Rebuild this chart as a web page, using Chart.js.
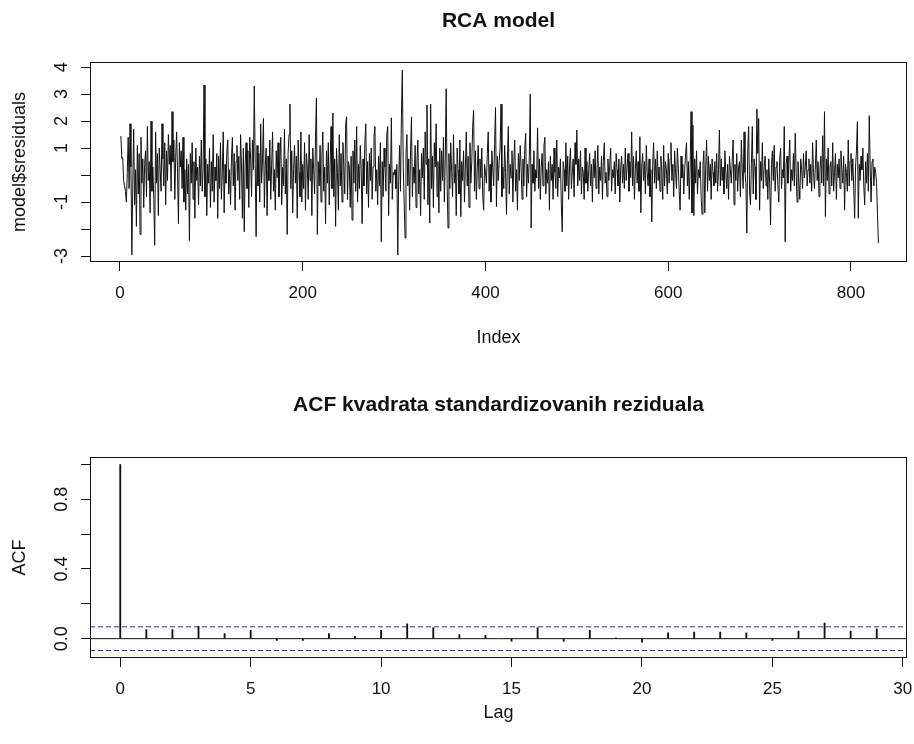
<!DOCTYPE html>
<html><head><meta charset="utf-8">
<script src="https://cdn.jsdelivr.net/npm/chart.js@4.4.1/dist/chart.umd.min.js"></script>
<style>
html,body{margin:0;padding:0;background:#fff;}
#wrap{position:relative;width:914px;height:744px;background:#fff;}
canvas{position:absolute;left:0;}
#c1{top:0}
#c2{top:372px}
</style></head><body>
<div id="wrap"><canvas id="c1" width="914" height="372"></canvas><canvas id="c2" width="914" height="372"></canvas></div>
<script>
// ---------- data ----------
const residuals = [
1.45,0.62,0.65,-0.2,-0.4,-0.6,-1.0,0.1,1.4,-0.5,
1.9,0.3,-2.95,-0.4,1.7,-1.1,0.2,-1.9,1.1,-0.7,
0.8,-2.2,1.4,-0.3,0.6,-1.2,0.4,0.9,-0.8,1.8,
-0.2,0.5,-1.4,2.0,-0.6,0.3,-0.9,-2.6,1.6,-0.3,
0.8,-1.5,1.0,0.2,-0.6,1.9,0.6,-0.4,1.2,-1.1,
0.9,-0.2,1.5,0.4,1.1,-0.6,2.35,0.5,1.3,-0.9,
0.7,1.6,0.1,-1.8,1.2,0.3,0.9,-0.5,1.4,-1.0,
0.2,-1.3,0.6,-0.7,0.4,-2.43,0.8,-0.3,1.2,-0.9,
0.5,-1.6,1.0,-0.2,0.3,-1.1,0.7,-0.4,1.3,-0.6,
0.2,3.33,-0.8,0.6,-1.5,0.4,-0.3,1.0,-1.2,0.5,
-0.6,1.5,-1.0,0.3,-0.2,0.8,-1.6,0.7,-0.5,1.2,
-0.9,0.1,1.6,-1.4,0.4,-0.3,0.9,1.3,-0.7,0.2,
-1.1,0.6,1.4,-0.4,0.8,-1.3,0.5,1.1,-0.2,0.7,
-0.9,1.5,0.3,-1.6,1.0,-2.1,0.4,1.2,-0.5,0.9,
-1.2,1.4,0.6,-0.8,1.3,0.2,3.3,0.4,-2.28,1.1,
-0.4,0.8,-1.0,1.9,-0.3,0.6,2.1,-1.2,0.3,1.0,
-1.5,0.7,-0.2,1.3,-0.9,0.4,1.6,-0.6,0.2,-1.3,
0.9,-0.1,1.2,-0.8,0.5,1.4,-1.1,0.3,-0.4,1.7,
-0.7,0.6,-2.2,0.8,1.5,2.63,-0.5,0.9,-1.4,0.2,
1.1,-0.3,0.7,-1.6,1.3,0.1,-0.8,1.6,-1.0,0.4,
-0.5,1.2,-1.3,0.8,0.3,-0.9,1.5,-0.2,0.6,-1.5,
1.0,0.2,-0.7,1.4,2.85,-2.2,0.5,-0.4,1.1,-1.0,
0.7,1.6,-0.6,0.3,-1.8,0.9,-0.3,1.2,-1.1,0.4,
1.8,-0.5,2.3,-0.8,0.6,-1.9,1.0,0.1,-1.3,1.5,
-0.4,0.8,-1.0,1.2,0.3,-0.7,1.9,2.16,-0.9,0.5,
0.3,-1.2,0.7,-1.67,0.9,-0.3,1.3,-0.6,1.8,-1.0,
0.4,-0.5,1.1,0.2,-1.8,0.6,-0.4,1.2,1.9,-0.7,
0.5,-1.2,0.8,-0.2,1.0,-0.9,0.3,1.4,1.8,-0.6,
0.2,-1.1,0.7,-0.4,1.2,-2.47,0.5,-0.8,1.0,0.3,
-0.6,1.5,1.8,-1.5,0.4,-0.3,2.12,-0.9,0.1,0.0,
0.2,-0.5,0.4,-2.96,-0.2,1.1,-0.6,2.2,3.89,0.3,
-1.0,-2.33,0.8,1.5,-0.4,0.6,-1.3,0.9,2.16,-0.8,
0.3,-0.3,1.1,-1.2,0.5,1.3,-0.7,0.2,-1.5,0.8,
-0.1,1.0,-0.9,1.6,0.4,2.59,-1.1,0.6,-1.78,2.63,
-0.5,0.7,-1.2,1.2,0.3,1.9,-0.8,0.5,-1.4,1.0,
-0.6,0.9,-0.2,1.4,-1.0,0.6,3.2,-0.3,-1.96,0.8,
-0.5,1.2,0.1,-0.8,1.5,-0.3,0.4,-1.5,1.0,0.2,
-0.7,1.3,-1.54,0.5,-0.2,0.9,-1.0,0.3,1.6,-0.4,
0.7,-1.2,1.2,-0.3,0.5,1.8,2.4,-0.6,0.9,-0.9,
0.2,1.1,-0.5,0.6,-0.1,1.0,-0.8,-1.3,0.4,0.1,
-0.3,0.8,1.6,-0.6,0.4,-1.0,0.9,0.2,-0.4,1.2,
2.5,-1.17,0.7,-0.2,0.5,1.0,2.63,-0.8,0.3,-0.5,
1.1,0.1,-1.46,0.6,1.8,-0.7,0.4,-0.1,0.9,-1.0,
0.5,1.3,-0.6,0.2,-1.3,0.8,-0.2,1.1,0.3,-0.9,
0.6,-0.4,1.0,1.55,-0.8,0.4,-0.3,0.7,3.0,-1.96,
0.4,-0.3,0.9,-0.6,0.2,-0.1,1.75,-0.5,0.6,-0.9,
0.3,0.8,-0.4,1.1,1.4,-0.7,0.2,-0.3,0.5,-1.3,
0.7,-0.2,0.4,-0.9,1.0,0.1,-0.5,1.3,-0.8,0.3,
-0.1,0.6,-1.1,-2.1,0.5,0.2,-0.6,1.2,-0.4,0.7,
-0.9,0.3,1.0,-0.5,0.1,0.6,-0.8,1.2,0.4,1.67,
-0.4,0.6,-0.2,0.9,-0.7,0.3,0.1,-0.9,1.0,-0.3,
0.5,-0.6,0.2,0.8,-0.4,0.4,-1.0,0.6,-0.1,0.9,
-0.5,0.2,1.1,-0.7,0.3,-0.2,0.7,-0.9,0.5,1.2,
-0.3,0.1,-0.8,0.6,-0.2,0.4,1.0,-0.6,0.2,-0.1,
0.5,-0.7,0.8,0.2,-0.4,0.6,-1.0,0.3,0.7,-0.3,
0.4,-0.5,1.0,-0.2,0.3,0.8,-0.6,0.5,-0.1,1.6,
-0.4,0.7,-0.9,0.2,0.9,-0.3,0.5,-0.6,1.42,-1.4,
0.3,0.8,-0.2,0.5,-0.7,1.1,0.1,-0.4,0.6,-0.8,
0.2,-1.73,0.4,1.2,-0.3,0.6,-0.5,0.9,-0.2,0.3,
-0.6,0.7,0.1,-0.9,1.1,-0.4,0.5,0.2,-0.7,0.8,
-0.3,0.6,1.2,-0.2,0.4,-0.8,0.9,0.1,-0.5,1.0,
0.3,-0.6,-1.3,0.7,-0.1,0.4,-0.7,0.2,0.8,1.2,
-0.4,0.5,-0.9,0.3,2.35,-1.4,1.85,-1.5,0.6,-0.3,
0.9,-0.7,0.2,-0.1,0.5,-0.8,-1.45,0.4,0.9,-1.4,
0.3,1.3,-0.6,0.7,-0.2,0.4,-0.9,0.6,0.1,-0.4,
0.5,-0.3,0.8,-0.6,0.2,1.67,-0.4,0.6,-0.2,0.3,
-0.7,0.9,0.1,-0.5,0.4,-0.9,0.7,0.2,-0.3,0.5,
1.3,-1.1,0.4,-0.2,0.8,-0.6,0.3,0.5,-0.8,1.3,
0.2,-0.5,1.6,0.1,-0.3,-2.15,0.9,1.8,-0.6,-1.1,
0.4,1.8,-0.7,0.6,0.3,-0.9,2.44,0.8,2.1,-1.3,
0.5,-0.2,1.2,-0.5,0.3,0.7,-0.4,0.2,-0.9,0.6,
-0.3,-1.85,0.4,0.9,-0.2,1.1,-0.6,0.3,0.5,-0.4,
-1.0,0.6,1.0,-0.5,0.2,-0.1,1.8,-2.47,0.4,0.7,
-0.3,0.5,1.3,-0.6,0.2,-0.2,0.8,-0.4,1.55,0.1,
-1.0,0.5,-0.3,-0.9,0.6,0.2,-0.5,0.8,-0.1,0.3,
0.9,-0.4,0.2,0.6,-0.3,0.4,-0.6,1.2,0.1,-0.5,
0.3,1.3,-0.2,0.5,-0.8,0.2,0.7,-0.3,1.46,-0.4,
2.35,-1.54,0.6,-0.2,1.0,-0.7,0.3,0.5,-0.4,1.2,
-0.6,0.1,0.8,-0.9,0.4,-0.1,0.6,-0.5,0.9,0.2,
-0.3,0.7,-1.3,0.4,0.1,-0.6,1.3,-0.4,0.5,0.8,
-0.2,0.6,-0.5,-1.6,0.3,0.9,1.98,-1.6,0.4,-0.2,
0.7,0.2,1.0,-0.4,-1.1,0.5,-0.3,0.8,-0.6,2.2,
0.3,-1.0,0.5,0.6,-0.4,0.3,0.1,-0.3,-1.45,-2.52
];
const indexTicks = [0, 200, 400, 600, 800];
const indexTickLabels = ['0', '200', '400', '600', '800'];
const residualTicks = [-3, -2, -1, 0, 1, 2, 3, 4];
const residualTickLabels = ['-3', '', '-1', '', '1', '2', '3', '4'];
const indexRange = [-32.8, 861.3];
const residualRange = [-3.22, 4.19];

const lags = [0,1,2,3,4,5,6,7,8,9,10,11,12,13,14,15,16,17,18,19,20,21,22,23,24,25,26,27,28,29];
const acfValues = [1.0,0.052,0.052,0.071,0.029,0.048,-0.01,-0.01,0.029,0.013,
                   0.048,0.085,0.063,0.023,0.019,-0.015,0.063,-0.015,0.048,0.004,
                   -0.02,0.033,0.038,0.038,0.033,-0.01,0.044,0.09,0.044,0.056];
const ciBound = 0.068;
const lagTicks = [0, 5, 10, 15, 20, 25, 30];
const lagTickLabels = ['0', '5', '10', '15', '20', '25', '30'];
const acfTicks = [0, 0.2, 0.4, 0.6, 0.8, 1.0];
const acfTickLabels = ['0.0', '', '0.4', '', '0.8', ''];
const lagRange = [-1.16, 30.16];
const acfRange = [-0.111, 1.043];

// ---------- styling ----------
const FONT = '"Liberation Sans", Arial, Helvetica, sans-serif';
const INK = '#111';

const boxPlugin = {
  id: 'rbox',
  afterDraw(chart) {
    const a = chart.chartArea, ctx = chart.ctx;
    ctx.save();
    ctx.strokeStyle = INK; ctx.lineWidth = 1;
    ctx.strokeRect(Math.round(a.left) + 0.5, Math.round(a.top) + 0.5,
                   Math.round(a.right - a.left) - 1, Math.round(a.bottom - a.top) - 1);
    ctx.restore();
  }
};

function gridOpts() {
  return { display: true, drawOnChartArea: false, drawTicks: true, tickLength: 9, color: INK, lineWidth: 1, offset: false };
}

function xScale(range, ticks, labels, height, titleText, titlePad) {
  return {
    type: 'linear', position: 'bottom', min: range[0], max: range[1], bounds: 'data', offset: false,
    afterBuildTicks: s => { s.ticks = ticks.map(v => ({ value: v })); },
    afterFit: s => { s.height = height; s.paddingLeft = 0; s.paddingRight = 0; },
    grid: gridOpts(), border: { display: false },
    ticks: { autoSkip: false, minRotation: 0, maxRotation: 0, padding: 12, color: INK,
             font: { family: FONT, size: 17 }, callback: (v, i) => labels[i] },
    title: { display: true, text: titleText, color: INK, font: { family: FONT, size: 18 },
             padding: { top: 0, bottom: titlePad } }
  };
}

function yScale(range, ticks, labels, tickPad, titleText, titlePad) {
  return {
    type: 'linear', position: 'left', min: range[0], max: range[1], bounds: 'data',
    afterBuildTicks: s => { s.ticks = ticks.map(v => ({ value: v })); },
    afterFit: s => { s.width = 90; s.paddingTop = 0; s.paddingBottom = 0; },
    grid: gridOpts(), border: { display: false },
    ticks: { autoSkip: false, minRotation: 90, maxRotation: 90, crossAlign: 'center', padding: tickPad, color: INK,
             font: { family: FONT, size: 18 }, callback: (v, i) => labels[i] },
    title: { display: true, text: titleText, color: INK, font: { family: FONT, size: 18 },
             padding: { top: titlePad, bottom: 0 } }
  };
}

function titleOpts(text, top, bottom) {
  return { display: true, text: text, color: INK, fullSize: false,
           font: { family: FONT, size: 21, weight: 'bold' }, padding: { top: top, bottom: bottom } };
}

// ---------- top chart: residual series ----------
new Chart(document.getElementById('c1'), {
  type: 'line',
  data: {
    datasets: [{
      data: residuals.map((v, i) => ({ x: i + 1, y: v })),
      borderColor: INK, borderWidth: 1, pointRadius: 0, tension: 0, fill: false
    }]
  },
  options: {
    responsive: false, animation: false, devicePixelRatio: 1,
    layout: { padding: { left: 0, right: 7, top: 0, bottom: 0 } },
    scales: {
      x: xScale(indexRange, indexTicks, indexTickLabels, 110, 'Index', 23),
      y: yScale(residualRange, residualTicks, residualTickLabels, 11, 'model$sresiduals', 9.5)
    },
    plugins: { legend: { display: false }, tooltip: { enabled: false },
               title: titleOpts('RCA model', 8.4, 28.4) }
  },
  plugins: [boxPlugin]
});

// ---------- bottom chart: ACF ----------
new Chart(document.getElementById('c2'), {
  type: 'bar',
  data: {
    datasets: [
      { type: 'bar', data: lags.map((l, i) => ({ x: l, y: acfValues[i] })),
        backgroundColor: INK, borderWidth: 0, barThickness: 1.2 },
      { type: 'line', data: [{ x: lagRange[0], y: 0 }, { x: lagRange[1], y: 0 }],
        borderColor: INK, borderWidth: 1, pointRadius: 0 },
      { type: 'line', data: [{ x: lagRange[0], y: ciBound }, { x: lagRange[1], y: ciBound }],
        borderColor: '#33338a', borderWidth: 1, borderDash: [5, 3], pointRadius: 0 },
      { type: 'line', data: [{ x: lagRange[0], y: -ciBound }, { x: lagRange[1], y: -ciBound }],
        borderColor: '#33338a', borderWidth: 1, borderDash: [5, 3], pointRadius: 0 }
    ]
  },
  options: {
    responsive: false, animation: false, devicePixelRatio: 1,
    layout: { padding: { left: 0, right: 7, top: 0, bottom: 0 } },
    scales: {
      x: xScale(lagRange, lagTicks, lagTickLabels, 86, 'Lag', 20),
      y: yScale(acfRange, acfTicks, acfTickLabels, 6.5, 'ACF', 9.5)
    },
    plugins: { legend: { display: false }, tooltip: { enabled: false },
               title: titleOpts('ACF kvadrata standardizovanih reziduala', 20.4, 39.4) }
  },
  plugins: [boxPlugin]
});
</script>
</body></html>
